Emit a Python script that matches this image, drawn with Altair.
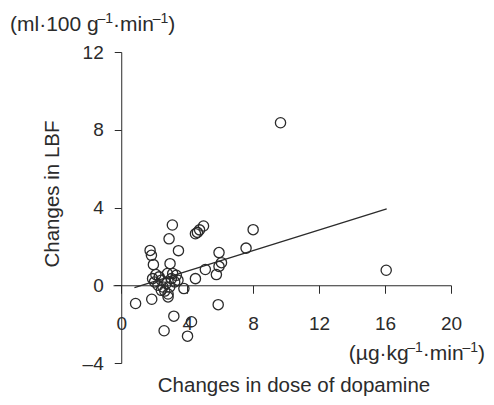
import altair as alt
import pandas as pd

# Scatter data: change in dopamine dose (x) vs change in LBF (y)
dose_change = [3.10, 2.90, 3.47, 4.50, 4.62, 4.75, 4.99, 9.66, 16.07, 8.00,
               7.57, 5.93, 6.08, 5.93, 5.77, 5.10, 4.50, 3.80, 5.88, 1.75,
               1.83, 1.95, 2.96, 0.87, 1.85, 3.19, 2.60, 4.26, 4.02, 2.84,
               2.84, 2.10, 2.30, 2.02, 2.23, 2.53, 2.43, 2.80, 3.12, 3.34,
               3.04, 2.73, 2.43, 2.94, 3.24, 1.90, 2.64, 3.44]
lbf_change = [3.10, 2.39, 1.78, 2.65, 2.72, 2.85, 3.05, 8.36, 0.77, 2.86,
              1.91, 1.68, 1.16, 0.97, 0.55, 0.81, 0.34, -0.17, -1.00, 1.79,
              1.54, 1.06, 1.11, -0.94, -0.72, -1.59, -2.34, -1.88, -2.62, -0.60,
              -0.45, 0.55, 0.43, 0.17, 0.00, -0.09, 0.26, 0.60, 0.60, 0.51,
              0.34, 0.09, -0.26, -0.09, 0.17, 0.34, -0.30, 0.26]

# Regression line end points
fit_x = [0.8, 16.1]
fit_y = [-0.12, 3.93]

x_ticks = [0, 4, 8, 12, 16, 20]
y_ticks = [-4, 0, 4, 8, 12]

# unit labels as (text, is_superscript) segments
y_unit = [("(ml·100 g", False), ("–1", True), ("·min", False), ("–1", True), (")", False)]
x_unit = [("(µg·kg", False), ("–1", True), ("·min", False), ("–1", True), (")", False)]
y_title = "Changes in LBF"
x_title = "Changes in dose of dopamine"

FONT = "Liberation Sans"
INK = "#2b2b2b"
W, H = 338, 311
BASE, SUP = 21, 14

# Arial / Liberation Sans advance widths (1/1000 em)
ADV = {"(": 333, ")": 333, "m": 833, "l": 222, "·": 278, "1": 556, "0": 556,
       " ": 278, "g": 556, "i": 222, "n": 556, "µ": 556, "k": 500, "–": 556}


def seg_width(txt, size):
    return sum(ADV.get(c, 556) for c in txt) * size / 1000.0


pts = pd.DataFrame({"x": dose_change, "y": lbf_change})
fit = pd.DataFrame({"x": fit_x, "y": fit_y})

xscale = alt.Scale(domain=[-0.5, 20], nice=False, zero=False)
yscale = alt.Scale(domain=[-4, 12], nice=False, zero=False)

x_off = -(4 / 16) * H       # x axis drawn at y = 0
y_off = -(0.5 / 20.5) * W   # y axis drawn at x = 0

xaxis = alt.Axis(values=x_ticks, title=None, grid=False, offset=x_off,
                 tickSize=8, labelPadding=21, labelFontSize=19, labelFont=FONT,
                 labelColor=INK, domainColor=INK, tickColor=INK,
                 labelFlush=False, labelOverlap=False)
yaxis = alt.Axis(values=y_ticks, title=None, grid=False, offset=y_off,
                 tickSize=7, labelPadding=11, labelFontSize=19, labelFont=FONT,
                 labelColor=INK, domainColor=INK, tickColor=INK,
                 labelFlush=False, labelOverlap=False,
                 labelExpr="replace(datum.label, '−', '–')")

points = alt.Chart(pts).mark_point(
    shape="circle", filled=False, size=105, stroke=INK, strokeWidth=1.3, opacity=1
).encode(
    x=alt.X("x:Q", scale=xscale, axis=xaxis),
    y=alt.Y("y:Q", scale=yscale, axis=yaxis),
)

line = alt.Chart(fit).mark_line(color=INK, strokeWidth=1.3).encode(
    x=alt.X("x:Q", scale=xscale),
    y=alt.Y("y:Q", scale=yscale),
)


def label(txt, x, y, align="left", angle=0, size=BASE, baseline="middle"):
    return alt.Chart(pd.DataFrame({"t": [txt]})).mark_text(
        font=FONT, fontSize=size, color=INK, align=align, baseline=baseline,
        angle=angle
    ).encode(text="t:N", x=alt.value(x), y=alt.value(y))


def unit_label(segments, x_start, y_base, sup_raise=8):
    layers = []
    x = x_start
    for txt, sup in segments:
        size = SUP if sup else BASE
        y = y_base - sup_raise if sup else y_base
        layers.append(label(txt, x, y, align="left", size=size, baseline="alphabetic"))
        x += seg_width(txt, size)
    return layers


def unit_width(segments):
    return sum(seg_width(t, SUP if s else BASE) for t, s in segments)


y_unit_layers = unit_label(y_unit, -103, -21)
x_unit_layers = unit_label(x_unit, 372 - unit_width(x_unit), 308)
y_title_txt = label(y_title, -60, 142, align="center", angle=270, size=20.5)
x_title_txt = label(x_title, 181, 340, align="center", size=20.5, baseline="alphabetic")

chart = alt.layer(points, line, *y_unit_layers, *x_unit_layers,
                  y_title_txt, x_title_txt).properties(
    width=W, height=H,
    autosize=alt.AutoSizeParams(type="none"),
    padding={"left": 105, "top": 44, "right": 35, "bottom": 34},
    background="white",
).configure_view(stroke=None)

chart.save("out.html", embed_options={"renderer": "svg", "actions": False})
